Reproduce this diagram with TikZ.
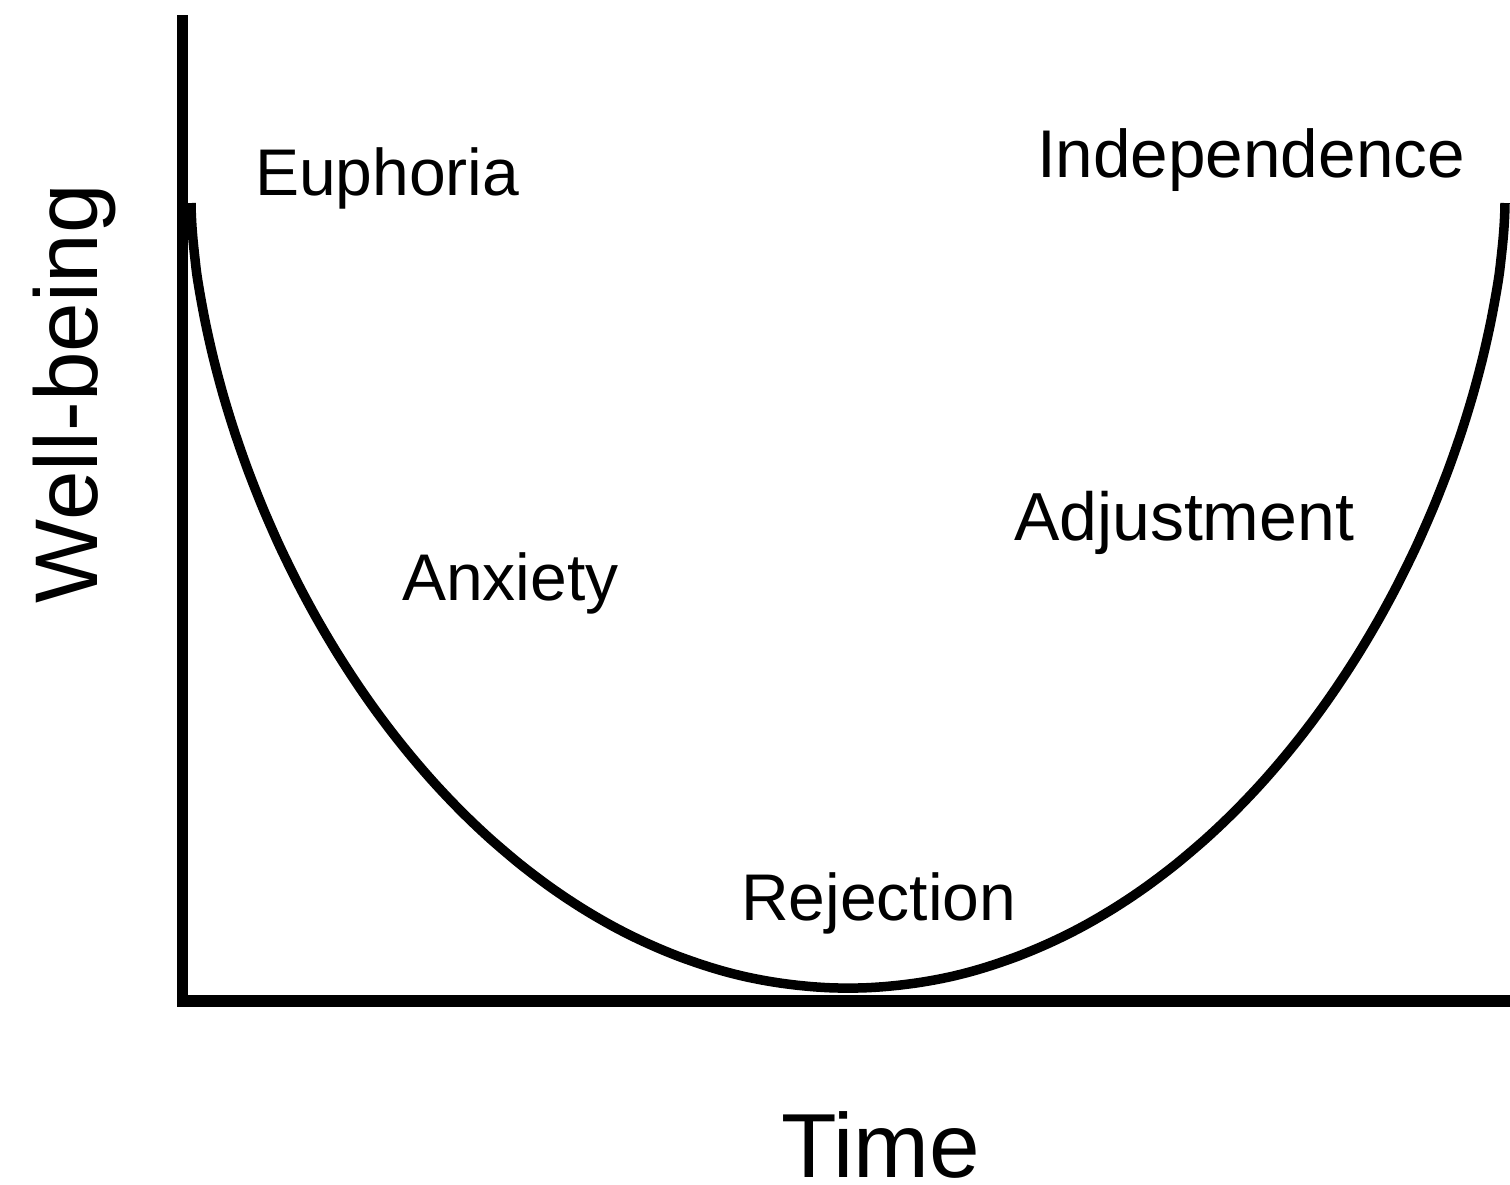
\documentclass[tikz,border=0pt]{standalone}
\usepackage{fontspec}
\setmainfont{Liberation Sans}
\begin{document}
\begin{tikzpicture}[x=1pt,y=-1pt,
  lbl/.style={anchor=base west,inner sep=0pt,outer sep=0pt},
  axisline/.style={line width=11.5pt,line join=miter},
  curveline/.style={line width=9.5pt,line cap=butt}]
\useasboundingbox (0,0) rectangle (1510,1184);
% axes
\coordinate (ytop) at (182.5,15);
\coordinate (origin) at (182.5,1001);
\coordinate (xend) at (1512,1001);
\draw[axisline] (ytop) -- (origin) -- (xend);
% U curve
\draw[curveline] plot[smooth,domain=-90:90,samples=121,variable=\t]
  ({848+657*sin(\t)},{203+785*pow(max(cos(\t),0)+0.0001,1.2)});
% labels
\node[lbl,font=\fontsize{66}{78}\selectfont] (euph) at (255,195) {Euphoria};
\node[lbl,font=\fontsize{67.5}{79}\selectfont] (indep) at (1037,177) {Independence};
\node[lbl,font=\fontsize{66}{78}\selectfont] (anx) at (402,600) {Anxiety};
\node[lbl,font=\fontsize{68}{80}\selectfont] (adj) at (1014,540) {Adjustment};
\node[lbl,font=\fontsize{66}{78}\selectfont] (rej) at (741,920) {Rejection};
\node[lbl,text depth=0pt,font=\fontsize{91}{107}\selectfont] (time) at (781,1177) {Time};
\node[lbl,rotate=90,font=\fontsize{89}{107}\selectfont] (wb) at (97,603) {Well-being};
\end{tikzpicture}
\end{document}
